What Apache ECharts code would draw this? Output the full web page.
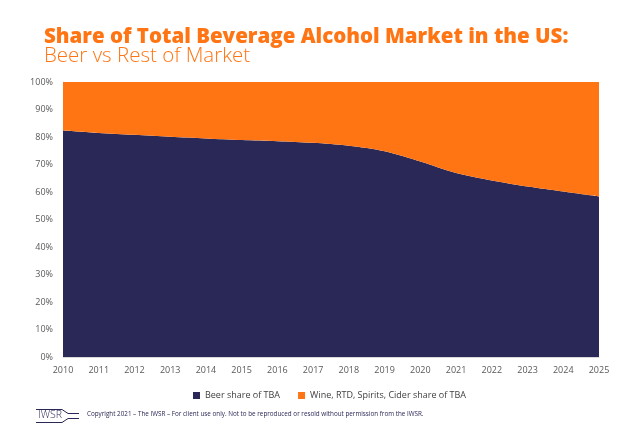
<!DOCTYPE html>
<html>
<head>
<meta charset="utf-8">
<script src="https://cdn.jsdelivr.net/npm/echarts@6/dist/echarts.min.js"></script>
<style>html,body{margin:0;padding:0;background:#fff;}#c{width:629px;height:436px;}</style>
</head>
<body>
<div id="c"></div>
<script>
var years = ['2010','2011','2012','2013','2014','2015','2016','2017','2018','2019','2020','2021','2022','2023','2024','2025'];
var beerShare = [82.4, 81.5, 80.8, 80.1, 79.5, 78.9, 78.5, 77.9, 76.8, 74.8, 71.1, 66.9, 64.2, 62.0, 60.2, 58.4];
var restShare = beerShare.map(function(v){ return +(100 - v).toFixed(1); });
var yTicks = [0, 10, 20, 30, 40, 50, 60, 70, 80, 90, 100];
var seriesNames = ['Beer share of TBA', 'Wine, RTD, Spirits, Cider share of TBA'];

var NAVY = '#2A2856', ORANGE = '#FF7514';
var chart = echarts.init(document.getElementById('c'));
chart.setOption({
  animation: false,
  backgroundColor: '#fff',
  textStyle: { fontFamily: 'Open Sans' },
  title: [{
    text: 'Share of Total Beverage Alcohol Market in the US:',
    left: 39, top: 22,
    textStyle: { color: ORANGE, fontSize: 20.5, fontWeight: 800, fontFamily: 'Open Sans' }
  }, {
    text: 'Beer vs Rest of Market',
    left: 39, top: 41,
    textStyle: { color: ORANGE, fontSize: 20.5, fontWeight: 300, fontFamily: 'Open Sans' }
  }],
  legend: {
    data: seriesNames,
    top: 386, left: 188,
    itemWidth: 7, itemHeight: 7, itemGap: 18,
    icon: 'rect',
    textStyle: { color: '#404040', fontSize: 9, fontFamily: 'Open Sans' }
  },
  grid: { left: 63, right: 30, top: 82, bottom: 79 },
  xAxis: {
    type: 'category', data: years, boundaryGap: false,
    axisLine: { lineStyle: { color: '#d9d9d9' } },
    axisTick: { show: false },
    axisLabel: { color: '#595959', fontSize: 9, margin: 9 }
  },
  yAxis: {
    type: 'value', min: 0, max: 100, interval: 10,
    axisLine: { show: true, lineStyle: { color: '#d9d9d9' } },
    splitLine: { show: false },
    axisLabel: { color: '#595959', fontSize: 9, margin: 10, formatter: function(v){ return yTicks.indexOf(v) >= 0 ? v + '%' : ''; } }
  },
  series: [{
    name: seriesNames[0], type: 'line', stack: 'a', data: beerShare,
    smooth: 0.3, symbol: 'none', lineStyle: { width: 0 },
    itemStyle: { color: NAVY }, areaStyle: { color: NAVY, opacity: 1 }
  }, {
    name: seriesNames[1], type: 'line', stack: 'a', data: restShare,
    smooth: 0.3, symbol: 'none', lineStyle: { width: 0 },
    itemStyle: { color: ORANGE }, areaStyle: { color: ORANGE, opacity: 1 }
  }],
  graphic: [
    { type: 'text', left: 38, top: 410, style: { text: 'IWSR', fill: '#2A2856', font: '300 10.5px "Open Sans"' } },
    { type: 'polyline', shape: { points: [[36,409.5],[62,409.5],[68,413.5],[79,413.5]] }, style: { stroke: '#2A2856', lineWidth: 1, fill: null } },
    { type: 'polyline', shape: { points: [[36,422.5],[62,422.5],[68,418.5],[79,418.5]] }, style: { stroke: '#2A2856', lineWidth: 1, fill: null } },
    { type: 'text', left: 87, top: 411.5, style: { text: 'Copyright 2021 \u2013 The IWSR \u2013 For client use only. Not to be reproduced or resold without permission from the IWSR.', fill: '#2A2856', font: '6.3px "Open Sans"' } }
  ]
});
</script>
</body>
</html>
